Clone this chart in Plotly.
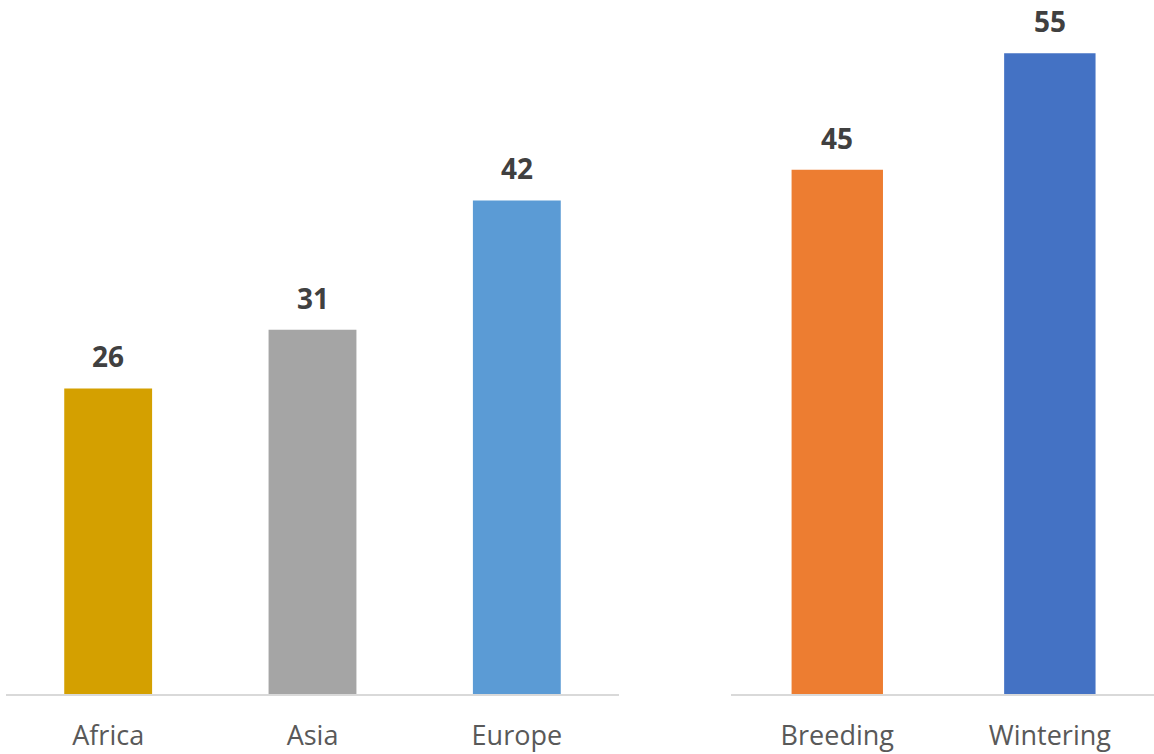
import plotly.graph_objects as go

regions = ["Africa", "Asia", "Europe"]
region_values = [26, 31, 42]
region_colors = ["#D4A000", "#A5A5A5", "#5B9BD5"]

seasons = ["Breeding", "Wintering"]
season_values = [45, 55]
season_colors = ["#ED7D31", "#4472C4"]

W, H = 1154, 754
label_font = dict(family="Open Sans", size=28, color="#404040")
tick_font = dict(family="Open Sans", size=27, color="#595959")

fig = go.Figure()
fig.add_trace(go.Bar(x=regions, y=region_values, marker=dict(color=region_colors, line_width=0),
                     width=0.43, xaxis="x", yaxis="y", showlegend=False, hoverinfo="x+y"))
fig.add_trace(go.Bar(x=seasons, y=season_values, marker=dict(color=season_colors, line_width=0),
                     width=0.43, xaxis="x2", yaxis="y2", showlegend=False, hoverinfo="x+y"))

annotations = []
for c, v in zip(regions, region_values):
    annotations.append(dict(x=c, y=v, xref="x", yref="y", text=f"<b>{v}</b>", showarrow=False,
                            yanchor="bottom", yshift=11, font=label_font))
for c, v in zip(seasons, season_values):
    annotations.append(dict(x=c, y=v, xref="x2", yref="y2", text=f"<b>{v}</b>", showarrow=False,
                            yanchor="bottom", yshift=11, font=label_font))

axis_common = dict(showgrid=False, zeroline=False, showline=True, linecolor="#D9D9D9", linewidth=1.5,
                   ticks="", tickfont=tick_font, ticklabelstandoff=17, fixedrange=True)

fig.update_layout(
    width=W, height=H,
    margin=dict(l=0, r=0, t=0, b=60),
    paper_bgcolor="white", plot_bgcolor="white",
    xaxis=dict(domain=[6 / W, 619 / W], range=[-0.5, 2.5], anchor="y", **axis_common),
    xaxis2=dict(domain=[731 / W, 1.0], range=[-0.5, 1.49], anchor="y2", **axis_common),
    yaxis=dict(range=[0, 59.06], visible=False, fixedrange=True),
    yaxis2=dict(range=[0, 59.57], visible=False, fixedrange=True, anchor="x2"),
    annotations=annotations,
    bargap=0.57,
)

fig.write_html("out.html", config={"displayModeBar": False})
